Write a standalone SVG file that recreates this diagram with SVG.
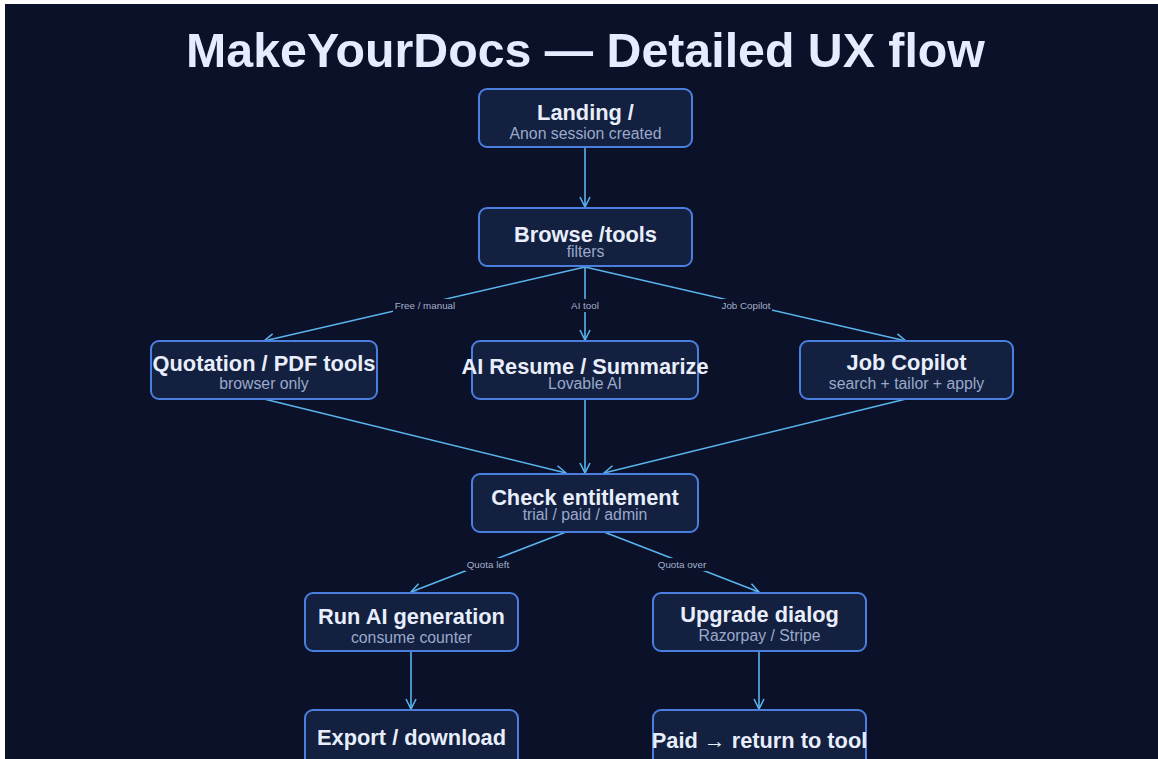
<svg xmlns="http://www.w3.org/2000/svg" width="1158" height="759" viewBox="0 0 1158 759">
<defs>
<style>
.bg{fill:#0b1128}
.node rect{fill:#13203f;stroke:#4a7fe0;stroke-width:2}
.t{font-family:"Liberation Sans",Arial,sans-serif;font-weight:bold;font-size:21.8px;fill:#e8eefc;text-anchor:middle}
.s{font-family:"Liberation Sans",Arial,sans-serif;font-size:15.8px;fill:#9aa9cc;text-anchor:middle}
.e{stroke:#5ab4ee;stroke-width:1.6;fill:none;marker-end:url(#ah)}
.lb{fill:#0b1128}
.lt{font-family:"Liberation Sans",Arial,sans-serif;font-size:9.8px;fill:#a3b0cc;text-anchor:middle}
.title{font-family:"Liberation Sans",Arial,sans-serif;font-weight:bold;font-size:48.3px;fill:#e6ecff;text-anchor:middle}
</style>
<marker id="ah" viewBox="0 0 12 12" refX="11" refY="6" markerWidth="12" markerHeight="12" markerUnits="userSpaceOnUse" orient="auto">
<path d="M1,1 L11,6 L1,11" fill="none" stroke="#5ab4ee" stroke-width="1.6"/>
</marker>
</defs>
<rect x="0" y="0" width="1158" height="759" fill="#ffffff"/>
<rect class="bg" x="5" y="4" width="1153" height="755"/>
<text class="title" x="585.5" y="67">MakeYourDocs — Detailed UX flow</text>
<g id="connectors">
<path class="e" d="M585,147 L585,207"/>
<path class="e" d="M585,267 L264,341"/>
<path class="e" d="M585,267 L585,340"/>
<path class="e" d="M585,267 L906,341"/>
<path class="e" d="M264,399 L566,473"/>
<path class="e" d="M585,399 L585,473"/>
<path class="e" d="M906,399 L604,473"/>
<path class="e" d="M566,532 L411,592"/>
<path class="e" d="M604,532 L759,592"/>
<path class="e" d="M411,651 L411,709"/>
<path class="e" d="M759,651 L759,709"/>
<rect class="lb" x="393" y="299" width="64" height="13"/>
<text class="lt" x="425" y="309">Free / manual</text>
<rect class="lb" x="570" y="299" width="30" height="13"/>
<text class="lt" x="585" y="309">AI tool</text>
<rect class="lb" x="720" y="299" width="52" height="13"/>
<text class="lt" x="746" y="309">Job Copilot</text>
<rect class="lb" x="465" y="558" width="46" height="13"/>
<text class="lt" x="488" y="568">Quota left</text>
<rect class="lb" x="656" y="558" width="53" height="13"/>
<text class="lt" x="682" y="568">Quota over</text>
</g>
<g id="landing" class="node"><rect x="479" y="89" width="213" height="58" rx="8"/><text class="t" x="585.5" y="120">Landing /</text><text class="s" x="585.5" y="139">Anon session created</text></g>
<g id="browse" class="node"><rect x="479" y="208" width="213" height="58" rx="8"/><text class="t" x="585.5" y="242">Browse /tools</text><text class="s" x="585.5" y="257">filters</text></g>
<g id="quotation" class="node"><rect x="151" y="341" width="226" height="58" rx="8"/><text class="t" x="264" y="371">Quotation / PDF tools</text><text class="s" x="264" y="389">browser only</text></g>
<g id="airesume" class="node"><rect x="472" y="341" width="226" height="58" rx="8"/><text class="t" x="585" y="374">AI Resume / Summarize</text><text class="s" x="585" y="389">Lovable AI</text></g>
<g id="jobcopilot" class="node"><rect x="800" y="341" width="213" height="58" rx="8"/><text class="t" x="906.5" y="370">Job Copilot</text><text class="s" x="906.5" y="389">search + tailor + apply</text></g>
<g id="check" class="node"><rect x="472" y="474" width="226" height="58" rx="8"/><text class="t" x="585" y="505">Check entitlement</text><text class="s" x="585" y="520">trial / paid / admin</text></g>
<g id="run" class="node"><rect x="305" y="593" width="213" height="58" rx="8"/><text class="t" x="411.5" y="624">Run AI generation</text><text class="s" x="411.5" y="643">consume counter</text></g>
<g id="upgrade" class="node"><rect x="653" y="593" width="213" height="58" rx="8"/><text class="t" x="759.5" y="622">Upgrade dialog</text><text class="s" x="759.5" y="641">Razorpay / Stripe</text></g>
<g id="export" class="node"><rect x="305" y="710" width="213" height="58" rx="8"/><text class="t" x="411.5" y="745">Export / download</text></g>
<g id="paid" class="node"><rect x="653" y="710" width="213" height="58" rx="8"/><text class="t" x="759.5" y="748">Paid → return to tool</text></g>
</svg>
